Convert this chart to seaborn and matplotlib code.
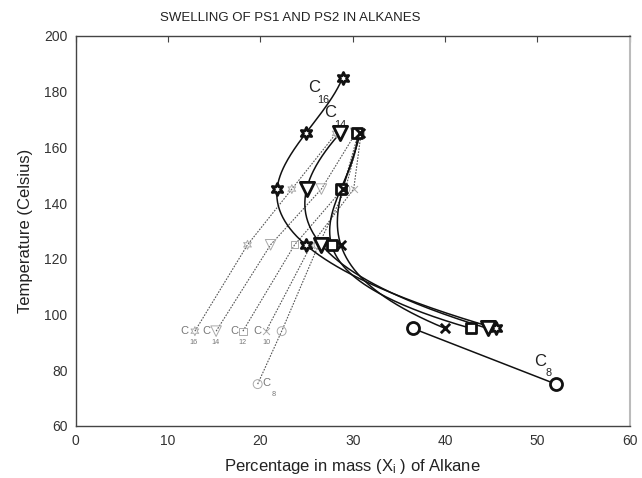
import numpy as np
import pandas as pd
import matplotlib
matplotlib.use("Agg")
import matplotlib.pyplot as plt
import seaborn as sns

# PS1 (solid) - temperature (C) and mass percentage of alkane
ps1_names = ['C16', 'C14', 'C12', 'C10', 'C8']
ps1_temp = {
    'C16': [95, 125, 145, 165, 185],
    'C14': [95, 125, 145, 165],
    'C12': [95, 125, 145, 165],
    'C10': [95, 125, 145, 165],
    'C8': [75, 95],
}
ps1_pct = {
    'C16': [45.5, 24.9, 21.8, 24.9, 28.9],
    'C14': [44.6, 26.6, 25.0, 28.6],
    'C12': [42.8, 27.7, 28.7, 30.5],
    'C10': [40.0, 28.7, 28.9, 30.8],
    'C8': [52.0, 36.5],
}

# PS2 (dotted)
ps2_temp = {
    'C16': [94, 125, 145, 165],
    'C14': [94, 125, 145, 165],
    'C12': [94, 125, 145, 165],
    'C10': [94, 125, 145, 165],
    'C8': [75, 94, 125, 145, 165],
}
ps2_pct = {
    'C16': [12.9, 18.6, 23.4, 28.2],
    'C14': [15.2, 21.1, 26.6, 30.3],
    'C12': [18.1, 23.7, 28.9, 30.6],
    'C10': [20.6, 25.5, 30.1, 30.9],
    'C8': [19.7, 22.3, 26.3, 29.2, 30.8],
}

markers = {'C16': (6, 1, 0), 'C14': 'v', 'C12': 's', 'C10': 'x', 'C8': 'o'}
msize = {'C16': 75, 'C14': 105, 'C12': 50, 'C10': 45, 'C8': 75}


def nak_spline(t, y, num=200):
    # not-a-knot cubic spline through the points, x as a function of T
    t = np.asarray(t, float)
    y = np.asarray(y, float)
    n = len(t)
    tt = np.linspace(t[0], t[-1], num)
    if n < 4:
        return tt, np.interp(tt, t, y)
    m = n - 1
    A = np.zeros((4 * m, 4 * m))
    b = np.zeros(4 * m)
    r = 0
    for i in range(m):
        h = t[i + 1] - t[i]
        A[r, 4 * i] = 1
        b[r] = y[i]
        r += 1
        A[r, 4 * i:4 * i + 4] = [1, h, h * h, h ** 3]
        b[r] = y[i + 1]
        r += 1
    for i in range(m - 1):
        h = t[i + 1] - t[i]
        A[r, 4 * i:4 * i + 4] = [0, 1, 2 * h, 3 * h * h]
        A[r, 4 * (i + 1) + 1] = -1
        r += 1
        A[r, 4 * i:4 * i + 4] = [0, 0, 2, 6 * h]
        A[r, 4 * (i + 1) + 2] = -2
        r += 1
    for i in (0, m - 2):
        A[r, 4 * i + 3] = 1
        A[r, 4 * (i + 1) + 3] = -1
        r += 1
    coef = np.linalg.solve(A, b).reshape(m, 4)
    idx = np.clip(np.searchsorted(t, tt, side='right') - 1, 0, m - 1)
    s = tt - t[idx]
    c = coef[idx]
    return tt, c[:, 0] + c[:, 1] * s + c[:, 2] * s ** 2 + c[:, 3] * s ** 3


sns.set_style('white')
plt.rcParams['font.family'] = ['Liberation Sans', 'DejaVu Sans']
plt.rcParams['mathtext.fontset'] = 'custom'
plt.rcParams['mathtext.rm'] = 'Liberation Sans'
plt.rcParams['mathtext.it'] = 'Liberation Sans'

fig = plt.figure(figsize=(6.42, 4.78), dpi=100)
ax = fig.add_axes([0.118, 0.109, 0.863, 0.816])

# PS2 dotted lines and light markers
for name in ps1_names:
    df = pd.DataFrame({'pct': ps2_pct[name], 'temp': ps2_temp[name]})
    sns.lineplot(data=df, x='pct', y='temp', sort=False, estimator=None, ax=ax,
                 color='#555555', linewidth=0.8, linestyle=(0, (1.5, 1.2)))
    mk = markers[name]
    if mk == 'x':
        sns.scatterplot(data=df, x='pct', y='temp', marker=mk, s=msize[name] * 0.55,
                        color='#aaaaaa', linewidth=0.7, ax=ax, zorder=3)
    else:
        sns.scatterplot(data=df, x='pct', y='temp', marker=mk, s=msize[name] * 0.55,
                        facecolor='none', edgecolor='#aaaaaa', linewidth=0.7, ax=ax, zorder=3)

# PS1 solid spline curves and bold markers
for name in ps1_names:
    tt, xx = nak_spline(ps1_temp[name], ps1_pct[name])
    sns.lineplot(x=xx, y=tt, sort=False, estimator=None, ax=ax,
                 color='#111111', linewidth=1.1)
    df = pd.DataFrame({'pct': ps1_pct[name], 'temp': ps1_temp[name]})
    mk = markers[name]
    if mk == 'x':
        sns.scatterplot(data=df, x='pct', y='temp', marker=mk, s=msize[name],
                        color='#111111', linewidth=2.0, ax=ax, zorder=5)
    else:
        sns.scatterplot(data=df, x='pct', y='temp', marker=mk, s=msize[name],
                        facecolor='white', edgecolor='#111111', linewidth=2.0, ax=ax, zorder=5)


def clabel(x, y, sub, size, color, off):
    ax.text(x, y, 'C', fontsize=size, color=color, ha='center', va='center')
    ax.annotate(sub, (x, y), xytext=off, textcoords='offset points', fontsize=size * 0.65,
                color=color, ha='center', va='center')


clabel(25.8, 181.3, '16', 12, '#222222', (7, -9))
clabel(27.6, 172.4, '14', 12, '#222222', (7, -9))
clabel(50.3, 83.0, '8', 12, '#222222', (6, -8))
clabel(11.8, 93.9, '16', 8, '#777777', (6, -8))
clabel(14.2, 93.9, '14', 8, '#777777', (6, -8))
clabel(17.2, 93.9, '12', 8, '#777777', (6, -8))
clabel(19.7, 93.9, '10', 8, '#777777', (6, -8))
clabel(20.7, 75.4, '8', 8, '#777777', (5, -8))

ax.set_xlim(0, 60)
ax.set_ylim(60, 200)
ax.set_xticks(range(0, 61, 10))
ax.set_yticks(range(60, 201, 20))
ax.tick_params(direction='in', length=4, labelsize=10, labelcolor='#333333',
               color='#444444', top=True, right=False, pad=6)
for side in ['left', 'bottom', 'top']:
    ax.spines[side].set_color('#444444')
    ax.spines[side].set_linewidth(1.0)
ax.spines['right'].set_color('#bbbbbb')
ax.spines['right'].set_linewidth(1.5)

ax.set_xlabel(r'Percentage in mass (X$_{\mathrm{i}}$ ) of Alkane', fontsize=12, color='#222222', labelpad=6)
ax.set_ylabel('Temperature (Celsius)', fontsize=12, color='#222222', labelpad=8)
fig.text(0.452, 0.962, 'SWELLING OF PS1 AND PS2 IN ALKANES', fontsize=9.5,
         color='#222222', ha='center', va='center')

fig.savefig('out.png', dpi=100)
